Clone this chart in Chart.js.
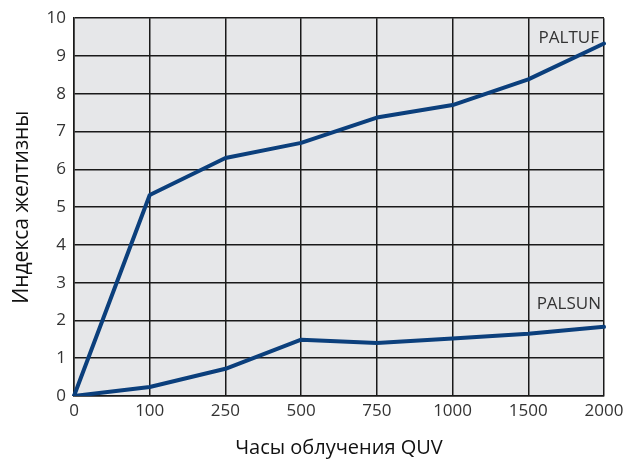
<!DOCTYPE html>
<html>
<head>
<meta charset="utf-8">
<script src="https://cdn.jsdelivr.net/npm/chart.js@4/dist/chart.umd.min.js"></script>
<style>
  html, body { margin: 0; padding: 0; background: #fff; }
  #wrap { width: 624px; height: 463px; }
</style>
</head>
<body>
<div id="wrap"><canvas id="chart" width="624" height="463"></canvas></div>
<script>
'use strict';

/* ── DATA ─────────────────────────── */
const hours  = ['0', '100', '250', '500', '750', '1000', '1500', '2000'];
const paltuf = [0, 5.32, 6.3, 6.7, 7.37, 7.7, 8.38, 9.33];
const palsun = [0, 0.24, 0.72, 1.49, 1.4, 1.52, 1.65, 1.83];
const yTicks = [0, 1, 2, 3, 4, 5, 6, 7, 8, 9, 10];

const lineColor = '#0b3f7c';
const gridColor = '#1a1a1a';
const tickColor = '#333333';
const font = 'Open Sans';

/* ── PLUGINS ─────────────────────────── */
const plotBg = {
  id: 'plotBg',
  beforeDraw(chart) {
    const { ctx, chartArea: a } = chart;
    ctx.save();
    ctx.fillStyle = '#e6e7e9';
    ctx.fillRect(a.left, a.top, a.right - a.left, a.bottom - a.top);
    ctx.restore();
  },
};

// series names written inside the plot, near the right end
const seriesLabels = {
  id: 'seriesLabels',
  afterDatasetsDraw(chart) {
    const { ctx, chartArea: a, scales } = chart;
    ctx.save();
    ctx.font = `17px "${font}"`;
    ctx.fillStyle = tickColor;
    ctx.textAlign = 'right';
    ctx.textBaseline = 'middle';
    ctx.fillText('PALTUF', a.right - 5, scales.y.getPixelForValue(9.48));
    ctx.fillText('PALSUN', a.right - 3, scales.y.getPixelForValue(2.42));
    ctx.restore();
  },
};

/* ── CHART ─────────────────────────── */
new Chart(document.getElementById('chart'), {
  type: 'line',
  data: {
    labels: hours,
    datasets: [
      { label: 'PALTUF', data: paltuf },
      { label: 'PALSUN', data: palsun },
    ].map(d => ({
      ...d,
      borderColor: lineColor,
      borderWidth: 4,
      pointRadius: 0,
      tension: 0,
      borderJoinStyle: 'round',
      borderCapStyle: 'round',
    })),
  },
  options: {
    responsive: false,
    animation: false,
    layout: { padding: { left: 0, right: 0, top: 18, bottom: 0 } },
    plugins: { legend: { display: false }, tooltip: { enabled: false } },
    scales: {
      x: {
        type: 'category',
        offset: false,
        grid: { color: gridColor, lineWidth: 1.5, drawTicks: false },
        border: { color: gridColor, width: 1.5 },
        ticks: { color: tickColor, font: { family: font, size: 17 }, padding: 5, maxRotation: 0 },
        title: {
          display: true,
          text: 'Часы облучения QUV',
          color: '#111',
          font: { family: font, size: 20 },
          padding: { top: 7, bottom: 3 },
        },
        afterFit: s => { s.height = 67; s.paddingRight = 20; },
      },
      y: {
        min: 0,
        max: 10,
        afterBuildTicks: s => { s.ticks = yTicks.map(v => ({ value: v })); },
        grid: { color: gridColor, lineWidth: 1.5, drawTicks: false },
        border: { color: gridColor, width: 1.5 },
        ticks: { color: tickColor, font: { family: font, size: 17 }, padding: 8 },
        title: {
          display: true,
          text: 'Индекса желтизны',
          color: '#111',
          font: { family: font, size: 21 },
          padding: { top: 9, bottom: 0 },
        },
        afterFit: s => { s.width = 74; },
      },
    },
  },
  plugins: [plotBg, seriesLabels],
});
</script>
</body>
</html>
